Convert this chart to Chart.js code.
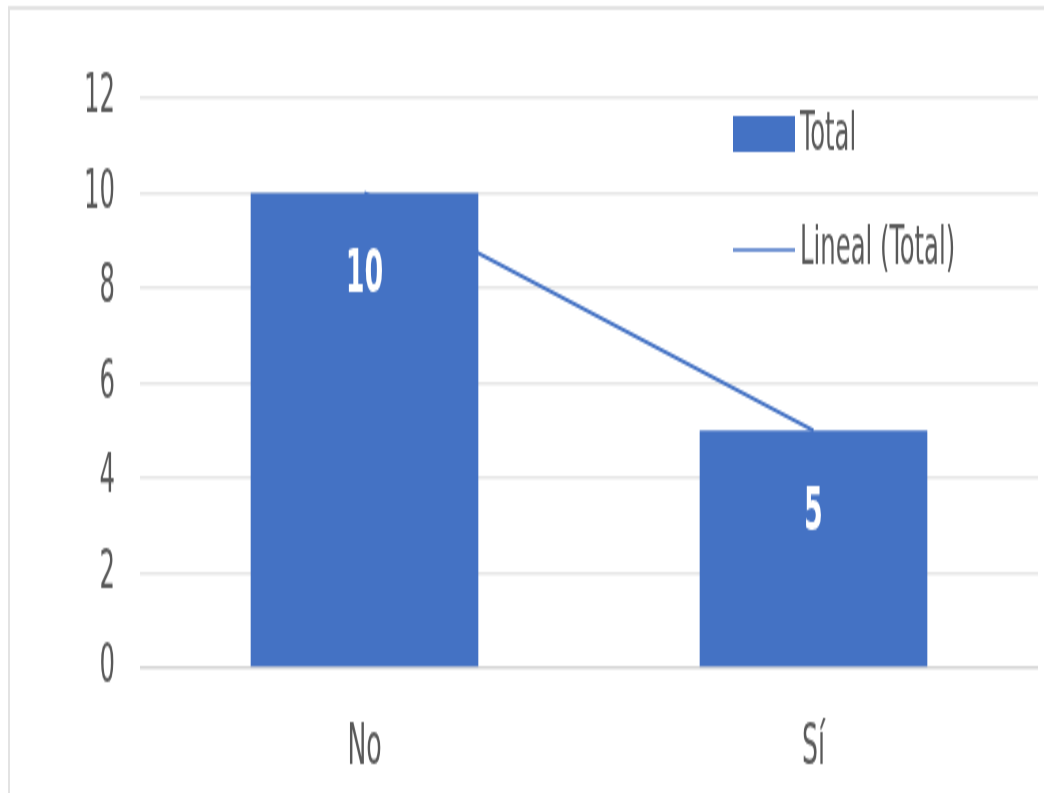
<!DOCTYPE html>
<html>
<head>
<meta charset="utf-8">
<script src="https://cdn.jsdelivr.net/npm/chart.js@4.4.0/dist/chart.umd.min.js"></script>
<style>
  html, body { margin: 0; padding: 0; background: #fff; }
  #marco { width: 1044px; height: 793px; position: relative; }
  #caja { position: absolute; left: 0; top: 0; width: 1044px; height: 397px; transform: scaleY(2); transform-origin: 0 0; }
</style>
</head>
<body>
<div id="marco"><div id="caja"><canvas id="barritas" width="1044" height="397"></canvas></div></div>
<script>
'use strict'

const categorias = ['No', 'Sí']
const totales = [10, 5]
const tendencia = [10, 5]
const ticksY = [0, 2, 4, 6, 8, 10, 12]

const azul = '#4472C4'
const fuente = "'Liberation Sans Narrow', 'DejaVu Sans Condensed', sans-serif"

// etiquetas de las barras, leyenda y borde del recuadro
const extras = {
  id: 'extras',
  afterDatasetsDraw(chart) {
    const ctx = chart.ctx
    const meta = chart.getDatasetMeta(0)
    ctx.save()
    ctx.fillStyle = '#fff'
    ctx.font = 'bold 30px ' + fuente
    ctx.textAlign = 'center'
    ctx.textBaseline = 'middle'
    meta.data.forEach((bar, i) => {
      ctx.fillText(String(totales[i]), bar.x, bar.y + 42)
    })
    ctx.restore()
  },
  afterDraw(chart) {
    const ctx = chart.ctx
    ctx.save()
    // borde superior e izquierdo
    ctx.fillStyle = '#e3e3e3'
    ctx.fillRect(8, 3, 1036, 2)
    ctx.fillRect(8, 3, 2, 394)
    // leyenda
    ctx.fillStyle = azul
    ctx.fillRect(733, 58, 62, 18)
    ctx.strokeStyle = azul
    ctx.lineWidth = 1.5
    ctx.beginPath()
    ctx.moveTo(733, 125)
    ctx.lineTo(795, 125)
    ctx.stroke()
    ctx.fillStyle = '#595959'
    ctx.font = '27px ' + fuente
    ctx.textAlign = 'left'
    ctx.textBaseline = 'middle'
    ctx.fillText(chart.data.datasets[0].label, 800, 67.5)
    ctx.fillText(chart.data.datasets[1].label, 800, 125)
    ctx.restore()
  }
}

const data = {
  labels: categorias,
  datasets: [{
    type: 'bar',
    label: 'Total',
    data: totales,
    backgroundColor: azul,
    categoryPercentage: 1,
    barPercentage: 0.507,
    order: 0
  }, {
    type: 'line',
    label: 'Lineal (Total)',
    data: tendencia,
    borderColor: azul,
    borderWidth: 2,
    pointRadius: 0,
    fill: false,
    order: 1
  }]
}

const config = {
  type: 'bar',
  data: data,
  plugins: [extras],
  options: {
    responsive: false,
    animation: false,
    layout: { padding: { top: 49, right: 6, bottom: 0, left: 0 } },
    plugins: {
      legend: { display: false },
      tooltip: { enabled: false }
    },
    scales: {
      x: {
        grid: { display: false, drawTicks: false },
        border: { display: false },
        ticks: { color: '#595959', font: { family: fuente, size: 28 }, padding: 24 },
        afterFit(scale) { scale.height = 63 }
      },
      y: {
        min: 0,
        max: 12,
        afterBuildTicks(scale) { scale.ticks = ticksY.map(v => ({ value: v })) },
        grid: {
          drawTicks: false,
          lineWidth: 1.5,
          color: ctx => ctx.tick && ctx.tick.value === 0 ? '#d4d4d4' : '#e6e6e6'
        },
        border: { display: false },
        ticks: { color: '#595959', font: { family: fuente, size: 27 }, padding: 25 },
        afterFit(scale) { scale.width = 140 }
      }
    }
  }
}

let barritas = new Chart(document.querySelector('#barritas'), config)
</script>
</body>
</html>
